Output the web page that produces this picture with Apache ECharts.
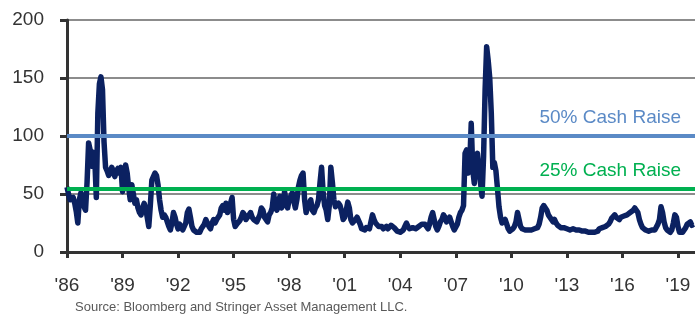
<!DOCTYPE html>
<html>
<head>
<meta charset="utf-8">
<script src="https://cdn.jsdelivr.net/npm/echarts@6/dist/echarts.min.js"></script>
<style>
html, body { margin: 0; padding: 0; background: #fff; }
#chart { width: 695px; height: 316px; }
</style>
</head>
<body>
<div id="chart"></div>
<script>
// monthly readings, first point = Jan 1986
var startYear = 1986;
var vals1986to1993 = [
	56, 50, 45, 44, 47, 42, 35, 25, 45, 51, 44, 39,
	36, 60, 94, 88, 74, 86, 80, 47, 120, 145, 151, 140,
	95, 73, 70, 66, 68, 73, 70, 65, 70, 72, 68, 73,
	52, 62, 75, 68, 55, 45, 58, 50, 42, 45, 38, 34,
	32, 38, 42, 38, 30, 22, 40, 62, 65, 68, 66, 58,
	45, 36, 30, 32, 30, 26, 22, 19, 25, 34, 30, 24,
	20, 24, 22, 19, 20, 25, 34, 37, 30, 22, 19, 18,
	17, 16, 17, 20, 22, 24, 28, 25, 22, 20, 25, 28
];
var vals1994to2001 = [
	25, 28, 30, 32, 38, 40, 36, 42, 34, 38, 42, 47,
	28, 22, 24, 25, 27, 30, 34, 32, 28, 30, 31, 34,
	30, 28, 27, 26, 29, 32, 38, 36, 30, 28, 26, 32,
	34, 38, 50, 40, 36, 42, 48, 38, 40, 52, 44, 38,
	45, 48, 51, 44, 38, 45, 56, 62, 66, 68, 45, 34,
	40, 42, 45, 36, 34, 38, 40, 45, 60, 73, 52, 40,
	36, 28, 40, 73, 60, 45, 39, 38, 42, 40, 35, 28,
	30, 36, 43, 38, 28, 25, 26, 28, 30, 29, 24, 20
];
var vals2002to2009 = [
	20, 19, 21, 22, 20, 26, 32, 28, 25, 24, 22, 21,
	22, 20, 21, 22, 20, 19, 23, 22, 21, 20, 18, 17,
	17, 18, 19, 22, 25, 22, 20, 19, 21, 22, 20, 19,
	22, 23, 24, 25, 24, 22, 20, 24, 30, 34, 28, 22,
	19, 22, 26, 28, 32, 30, 26, 28, 30, 26, 22, 19,
	20, 24, 30, 34, 36, 40, 85, 88, 68, 75, 111, 71,
	59, 80, 85, 72, 60, 48, 82, 140, 177, 165, 150, 120,
	73, 77, 70, 55, 39, 30, 25, 26, 28, 24, 20, 18
];
var vals2010to2019 = [
	18, 20, 22, 26, 34, 28, 22, 20, 19, 19, 18, 19,
	19, 19, 20, 20, 19, 21, 24, 30, 38, 40, 39, 36,
	32, 30, 28, 26, 28, 25, 23, 22, 21, 20, 21, 22,
	20, 19, 19, 18, 20, 21, 19, 20, 19, 18, 18, 17,
	18, 17, 17, 16, 17, 16, 17, 18, 18, 20, 19, 21,
	21, 22, 23, 24, 26, 29, 28, 32, 30, 29, 28, 30,
	30, 31, 30, 32, 33, 34, 35, 36, 38, 37, 34, 28,
	24, 21, 20, 19, 20, 18, 17, 19, 18, 19, 20, 24,
	28, 39, 34, 26, 21, 19, 18, 17, 19, 25, 32, 30,
	22, 17, 16, 17, 19, 21, 24, 25, 26, 23, 24
];
var thresholdValues = [100, 54.5];
var thresholdLabels = ['50% Cash Raise', '25% Cash Raise'];
var thresholdColors = ['#5b8ac6', '#00b050'];
var sourceText = 'Source: Bloomberg and Stringer Asset Management LLC.';

var allVals = vals1986to1993.concat(vals1994to2001, vals2002to2009, vals2010to2019);
var seriesData = allVals.map(function (v, i) {
	return [startYear + i / 12, v];
});

var FONT = "'Liberation Sans Narrow', 'Arial Narrow', 'Liberation Sans', Arial, sans-serif";
var chart = echarts.init(document.getElementById('chart'));
chart.setOption({
	animation: false,
	grid: { left: 67, right: 0, top: 20, bottom: 64 },
	xAxis: {
		type: 'value',
		min: 1986,
		max: 2019.92,
		interval: 3,
		axisLine: { lineStyle: { color: '#333', width: 3 } },
		axisTick: { show: true, length: 6, lineStyle: { color: '#333', width: 3 } },
		splitLine: { show: false },
		axisLabel: {
			showMaxLabel: false,
			margin: 24,
			fontSize: 19,
			fontFamily: FONT,
			color: '#333',
			formatter: function (v) { return "'" + String(Math.round(v)).slice(2); }
		}
	},
	yAxis: {
		type: 'value',
		min: 0,
		max: 200,
		interval: 50,
		axisLine: { show: true, lineStyle: { color: '#333', width: 3 } },
		axisTick: { show: true, length: 7, lineStyle: { color: '#333', width: 3 } },
		splitLine: { lineStyle: { color: '#8c8c8c', width: 2 } },
		axisLabel: { margin: 23, fontSize: 19, fontFamily: FONT, color: '#333' }
	},
	series: [{
		type: 'line',
		data: seriesData,
		showSymbol: false,
		lineStyle: { color: '#0b2161', width: 5.5, join: 'round' },
		markLine: {
			symbol: 'none',
			silent: true,
			label: {
				position: 'insideEndTop',
				fontSize: 19,
				fontFamily: FONT,
				distance: [14, 9]
			},
			data: thresholdValues.map(function (v, i) {
				return {
					yAxis: v,
					lineStyle: { color: thresholdColors[i], width: 4, type: 'solid' },
					label: { formatter: thresholdLabels[i], color: thresholdColors[i] }
				};
			})
		}
	}],
	graphic: [{
		type: 'text',
		left: 75,
		top: 301,
		style: { text: sourceText, fontSize: 13, fontFamily: FONT, fill: '#595959' }
	}]
});
</script>
</body>
</html>
